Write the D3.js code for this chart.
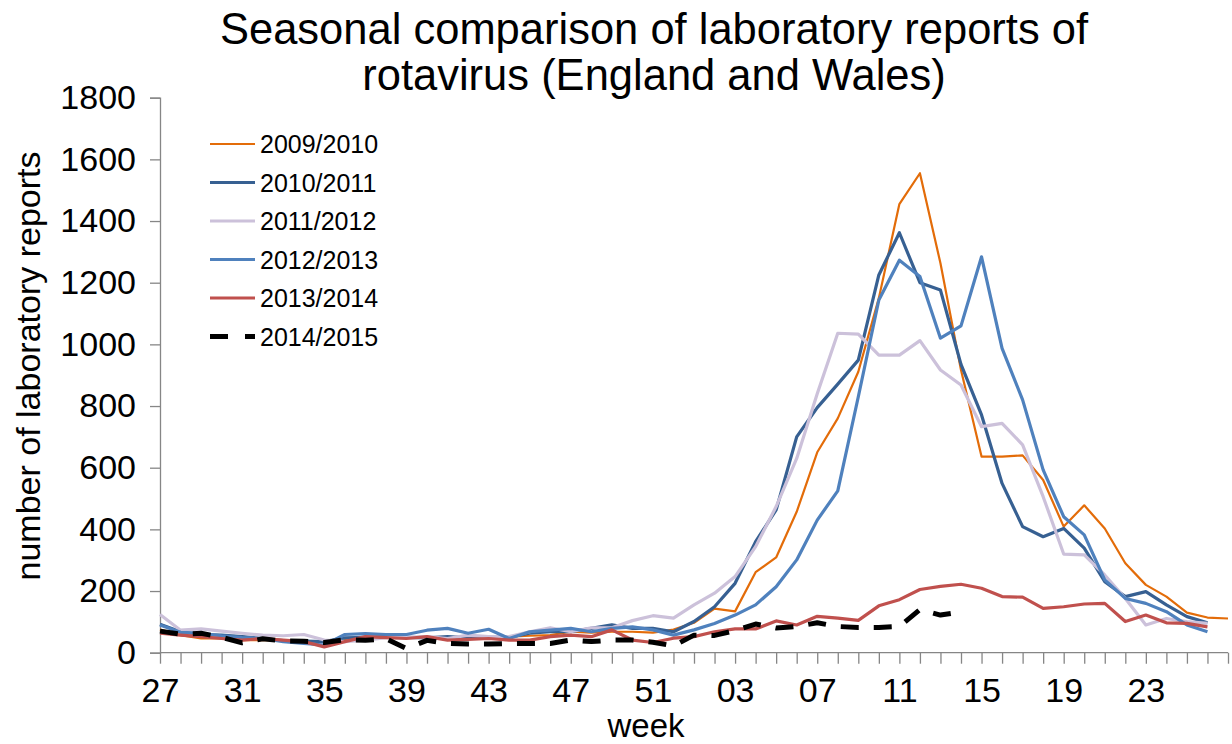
<!DOCTYPE html>
<html>
<head>
<meta charset="utf-8">
<script src="https://cdn.jsdelivr.net/npm/d3@7"></script>
<style>
  html, body { margin: 0; padding: 0; background: #fff; }
  svg { display: block; font-family: "Liberation Sans", Arial, sans-serif; }
</style>
</head>
<body>
<svg id="chart" width="1232" height="744"></svg>
<script>
// ---- data ----
const titleLines = ["Seasonal comparison of laboratory reports of", "rotavirus (England and Wales)"];
const yLabel = "number of laboratory reports";
const xLabel = "week";
const weeks = ["27","28","29","30","31","32","33","34","35","36","37","38","39","40","41","42","43","44","45","46","47","48","49","50","51","52",
               "01","02","03","04","05","06","07","08","09","10","11","12","13","14","15","16","17","18","19","20","21","22","23","24","25","26",""];
const yTicks = [0,200,400,600,800,1000,1200,1400,1600,1800];
const seriesNames = ["2009/2010","2010/2011","2011/2012","2012/2013","2013/2014","2014/2015"];

const s2009 = [75,57,46,46,41,41,41,38,36,41,50,50,50,48,50,52,54,52,55,57,
               68,65,68,68,65,75,97,143,134,261,309,457,650,760,911,1150,1455,1555,1263,917,
               636,636,640,560,409,478,403,290,220,182,130,114,111];
const s2010 = [92,68,59,57,52,46,39,38,36,48,50,52,50,48,52,48,46,50,63,68,
               68,79,90,79,79,68,101,149,225,360,463,700,795,871,949,1225,1362,1200,1176,935,
               771,549,409,376,403,339,230,182,198,155,117,97];
const s2011 = [124,73,77,70,63,57,55,59,41,36,41,49,50,52,46,57,52,52,68,81,
               68,81,81,104,120,112,155,193,247,344,474,630,840,1036,1033,965,965,1012,917,868,
               733,744,674,506,320,317,252,176,90,111,101,95];
const s2012 = [90,66,63,55,49,46,36,30,25,59,62,59,59,73,79,63,76,46,68,73,
               79,68,79,84,74,57,74,95,122,155,214,301,430,525,830,1144,1273,1220,1020,1060,
               1284,987,820,593,441,382,236,176,160,133,90,68];
const s2013 = [63,57,52,46,41,46,41,36,19,36,52,49,46,52,41,43,46,41,41,52,
               57,52,74,41,33,47,52,68,77,77,103,90,118,112,105,152,172,205,215,222,
               209,182,180,144,149,158,160,101,122,97,95,84];
const s2014 = [70,60,63,50,32,45,38,37,33,42,40,45,14,40,30,28,28,30,30,30,
               41,36,41,41,34,22,57,56,72,93,80,85,97,85,82,82,85,140,122,132];

const allSeries = [s2009, s2010, s2011, s2012, s2013, s2014];
const colors = ["#E36C09","#376092","#CCC1DA","#4F81BD","#C0504D","#000000"];
const widths = [2.2, 3.2, 3.2, 3.2, 3.2, 5];
const dashes = [null, null, null, null, null, "18,15"];

// ---- layout ----
const svg = d3.select("#chart");
const x = d3.scaleLinear().domain([0, weeks.length - 1]).range([160, 1228]);
const y = d3.scaleLinear().domain([0, 1800]).range([652.7, 97.7]);
const axisColor = "#868686";

// title
svg.append("g").selectAll("text").data(titleLines).join("text")
  .attr("x", 654).attr("y", (d, i) => 44 + i * 46)
  .attr("text-anchor", "middle").attr("font-size", 43.5).attr("fill", "#000")
  .text(d => d);

// y axis
const yAxis = d3.axisLeft(y).tickValues(yTicks).tickSize(10).tickPadding(14).tickFormat(d3.format("d"));
const gy = svg.append("g").attr("transform", "translate(160,0)").call(yAxis);
gy.select(".domain").attr("stroke", axisColor).attr("stroke-width", 1.3);
gy.selectAll(".tick line").attr("stroke", axisColor).attr("stroke-width", 1.3);
gy.selectAll(".tick text").attr("font-size", 34).attr("fill", "#000").attr("font-family", "Liberation Sans, Arial, sans-serif");

// x axis
const xAxis = d3.axisBottom(x).tickValues(d3.range(weeks.length)).tickSize(11).tickPadding(14)
  .tickFormat(i => (i % 4 === 0 ? weeks[i] : ""));
const gx = svg.append("g").attr("transform", "translate(0,652.7)").call(xAxis);
gx.select(".domain").attr("stroke", axisColor).attr("stroke-width", 1.3).attr("d", `M160,0H1228`);
gx.selectAll(".tick line").attr("stroke", axisColor).attr("stroke-width", 1.3);
gx.selectAll(".tick text").attr("font-size", 34).attr("fill", "#000").attr("font-family", "Liberation Sans, Arial, sans-serif");

// axis titles
svg.append("text").attr("transform", "translate(40,366) rotate(-90)")
  .attr("text-anchor", "middle").attr("font-size", 34).attr("fill", "#000").text(yLabel);
svg.append("text").attr("x", 646).attr("y", 737)
  .attr("text-anchor", "middle").attr("font-size", 33).attr("fill", "#000").text(xLabel);

// lines
const line = d3.line().x((d, i) => x(i)).y(d => y(d));
const gl = svg.append("g");
allSeries.forEach((s, k) => {
  gl.append("path").datum(s).attr("d", line)
    .attr("fill", "none").attr("stroke", colors[k]).attr("stroke-width", widths[k])
    .attr("stroke-linejoin", "round")
    .attr("stroke-dasharray", dashes[k]);
});

// legend
const lg = svg.append("g");
seriesNames.forEach((n, k) => {
  const yy = 144 + k * 38.5;
  lg.append("line").attr("x1", 210).attr("x2", 255).attr("y1", yy).attr("y2", yy)
    .attr("stroke", colors[k]).attr("stroke-width", widths[k])
    .attr("stroke-dasharray", dashes[k] ? "18,17" : null);
  lg.append("text").attr("x", 260).attr("y", yy + 9).attr("font-size", 25).attr("fill", "#000").text(n);
});
</script>
</body>
</html>
